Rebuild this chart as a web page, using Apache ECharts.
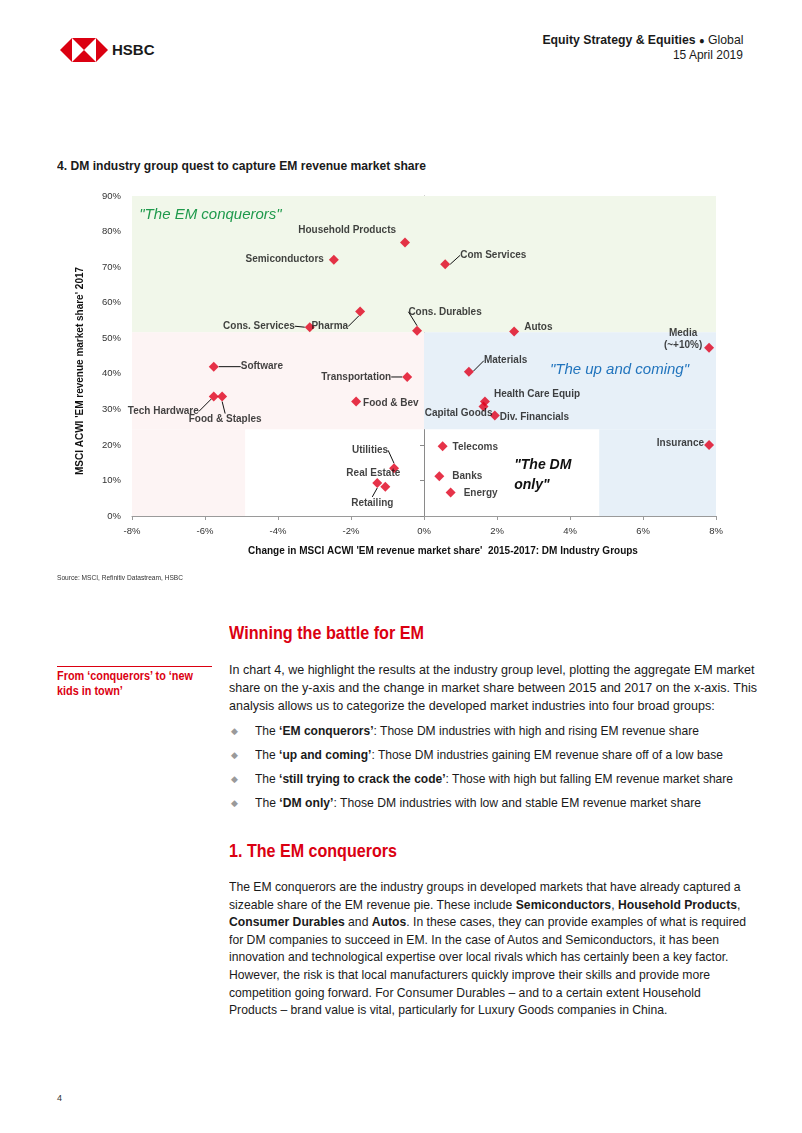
<!DOCTYPE html>
<html>
<head>
<meta charset="utf-8">
<script src="https://cdn.jsdelivr.net/npm/echarts@6/dist/echarts.min.js"></script>
<style>
  html, body { margin:0; padding:0; background:#fff; }
  body { width:802px; height:1133px; position:relative; overflow:hidden;
         font-family:"Liberation Sans",Arial,sans-serif; color:#1a1a1a; }
  .abs { position:absolute; white-space:nowrap; transform-origin:left top; }
  .red { color:#db0011; }
  #chart { position:absolute; left:0; top:180px; width:802px; height:400px; }
  .para { font-size:13.5px; line-height:18px; }
  .bul { font-size:13.5px; line-height:18px; }
  .dia { position:absolute; color:#9a9a9a; font-size:9px; line-height:18px; font-family:"DejaVu Sans",sans-serif; }
</style>
</head>
<body>
<!-- header -->
<svg class="abs" style="left:60px;top:38px" width="48" height="24" viewBox="0 0 100 50">
  <polygon points="0,25 25,0 25,50" fill="#db0011"/>
  <polygon points="100,25 75,0 75,50" fill="#db0011"/>
  <polygon points="25,0 75,0 50,25" fill="#db0011"/>
  <polygon points="25,50 75,50 50,25" fill="#db0011"/>
</svg>
<div class="abs" style="left:112px;top:41px;font-weight:bold;font-size:15px;line-height:18px;">HSBC</div>
<div class="abs" data-w="201" style="right:59px;top:32px;font-size:13px;line-height:15px;transform-origin:right top;"><b>Equity Strategy &amp; Equities</b> <span style="font-size:10px">●</span> Global</div>
<div class="abs" data-w="70" style="right:59px;top:47px;font-size:13px;line-height:15px;transform-origin:right top;">15 April 2019</div>

<!-- chart title -->
<div class="abs" data-w="369" style="left:57px;top:159px;font-weight:bold;font-size:12px;line-height:14px;">4. DM industry group quest to capture EM revenue market share</div>

<div id="chart"></div>

<div class="abs" data-w="126" style="left:57px;top:573px;font-size:8px;line-height:10px;color:#333;">Source: MSCI, Refinitiv Datastream, HSBC</div>

<!-- text -->
<div class="abs red" data-w="195" style="left:229px;top:622px;font-size:19px;font-weight:bold;line-height:22px;">Winning the battle for EM</div>
<div class="abs" style="left:57px;top:666px;width:155px;height:1px;background:#db0011;"></div>
<div class="abs red" data-w="136" style="left:57px;top:669px;font-size:12.5px;font-weight:bold;line-height:15px;">From ‘conquerors’ to ‘new<br>kids in town’</div>

<div class="abs para" data-w="528" style="left:229px;top:661px;">In chart 4, we highlight the results at the industry group level, plotting the aggregate EM market<br>share on the y-axis and the change in market share between 2015 and 2017 on the x-axis. This<br>analysis allows us to categorize the developed market industries into four broad groups:</div>

<div class="dia" style="left:231px;top:722px;">◆</div>
<div class="dia" style="left:231px;top:746px;">◆</div>
<div class="dia" style="left:231px;top:770px;">◆</div>
<div class="dia" style="left:231px;top:794px;">◆</div>
<div class="abs bul" data-w="444" style="left:255px;top:722px;">The <b>‘EM conquerors’</b>: Those DM industries with high and rising EM revenue share</div>
<div class="abs bul" data-w="468" style="left:255px;top:746px;">The <b>‘up and coming’</b>: Those DM industries gaining EM revenue share off of a low base</div>
<div class="abs bul" data-w="478" style="left:255px;top:770px;">The <b>‘still trying to crack the code’</b>: Those with high but falling EM revenue market share</div>
<div class="abs bul" data-w="446" style="left:255px;top:794px;">The <b>‘DM only’</b>: Those DM industries with low and stable EM revenue market share</div>

<div class="abs red" data-w="168" style="left:229px;top:840px;font-size:19px;font-weight:bold;line-height:22px;">1. The EM conquerors</div>
<div class="abs para" data-w="517" style="left:229px;top:878px;line-height:17.6px;">The EM conquerors are the industry groups in developed markets that have already captured a<br>sizeable share of the EM revenue pie. These include <b>Semiconductors</b>, <b>Household Products</b>,<br><b>Consumer Durables</b> and <b>Autos</b>. In these cases, they can provide examples of what is required<br>for DM companies to succeed in EM. In the case of Autos and Semiconductors, it has been<br>innovation and technological expertise over local rivals which has certainly been a key factor.<br>However, the risk is that local manufacturers quickly improve their skills and provide more<br>competition going forward. For Consumer Durables – and to a certain extent Household<br>Products – brand value is vital, particularly for Luxury Goods companies in China.</div>

<div class="abs" style="left:57px;top:1092px;font-size:9px;line-height:12px;color:#333;">4</div>

<script>
// ---- data ----
const industries = ['Household Products','Semiconductors','Com Services','Pharma','Cons. Services','Cons. Durables','Autos','Media\n(~+10%)','Software','Transportation','Tech Hardware','Food & Staples','Food & Bev','Utilities','Real Estate','Retailing','Materials','Health Care Equip','Capital Goods','Div. Financials','Telecoms','Banks','Energy','Insurance'];
// change in EM revenue market share 2015-2017 (%)
const shareChange = [-0.52,-2.47,0.58,-1.75,-3.13,-0.19,2.47,7.81,-5.76,-0.46,-5.76,-5.53,-1.86,-0.82,-1.06,-1.28,1.23,1.67,1.63,1.94,0.51,0.42,0.73,7.81];
// EM revenue market share 2017 (%)
const share2017 = [76.9,72.1,70.8,57.5,53.1,52.1,51.9,47.3,42.0,39.1,33.6,33.6,32.2,13.4,8.2,9.3,40.6,32.2,30.8,28.3,19.6,11.2,6.6,20.0];
const xAxisRange = [-8, 8, 2];
const yAxisRange = [0, 90, 10];
// quadrant boundaries (data units)
const shareSplit = 51.7;
const lowSplit = 24.4;
const leftLowEdge = -4.9;
const rightLowEdge = 4.8;
const quadrantNames = ['"The EM conquerors"', '"The still trying to crack\nthe code"', '"The up and coming"', '"The DM\nonly"'];
const quadrantAnchors = [[-7.8, 84.7], [-8.1, 45.6], [3.45, 41.2], [2.47, 11.5]];

// ---- label placement (styling) ----
const place = {
  'Household Products': {pos:'left', dx:1, dy:-12},
  'Semiconductors': {pos:'left', dx:0, dy:0},
  'Com Services': {pos:'right', dx:5, dy:-9, line:true},
  'Pharma': {pos:'left', dx:-2, dy:15, line:true},
  'Cons. Services': {pos:'left', dx:-5, dy:-1, line:true},
  'Cons. Durables': {pos:'top', dx:28, dy:-3, line:true},
  'Autos': {pos:'right', dx:0, dy:-4},
  'Media\n(~+10%)': {pos:'left', dx:-16, dy:-9, align:'center'},
  'Software': {pos:'right', dx:17, dy:0, line:true},
  'Transportation': {pos:'left', dx:-6, dy:0, line:true},
  'Tech Hardware': {pos:'left', dx:-5, dy:15, line:true},
  'Food & Staples': {pos:'bottom', dx:3, dy:7, line:true},
  'Food & Bev': {pos:'right', dx:-3, dy:2},
  'Utilities': {pos:'top', dx:-24, dy:-2, line:true},
  'Real Estate': {pos:'top', dx:-12, dy:2},
  'Retailing': {pos:'bottom', dx:-5, dy:4, line:true},
  'Materials': {pos:'right', dx:5, dy:-11, line:true},
  'Health Care Equip': {pos:'right', dx:-1, dy:-7},
  'Capital Goods': {pos:'left', dx:19, dy:7},
  'Div. Financials': {pos:'right', dx:-5, dy:2},
  'Telecoms': {pos:'right', dx:0, dy:1},
  'Banks': {pos:'right', dx:3, dy:0},
  'Energy': {pos:'right', dx:3, dy:1},
  'Insurance': {pos:'left', dx:5, dy:-2}
};

const FONT = '"Liberation Sans",Arial,sans-serif';
const chart = echarts.init(document.getElementById('chart'), null, {renderer:'canvas'});

const points = industries.map((n, i) => ({
  name: n,
  value: [shareChange[i], share2017[i]],
  label: Object.assign({position: place[n].pos}, place[n].align ? {align: place[n].align} : {}),
  labelLine: {show: !!place[n].line}
}));

const quadColors = ['#1f9a4c', '#e8101e', '#2174bd', '#111'];
const quadStyle = [
  {fontWeight:'normal', fontSize:15, lineHeight:18},
  {fontWeight:'bold', fontSize:14, lineHeight:18},
  {fontWeight:'normal', fontSize:15, lineHeight:18},
  {fontWeight:'bold', fontSize:14, lineHeight:20}
];

const option = {
  animation: false,
  grid: {left:132, right:86, top:16, bottom:64},
  xAxis: {
    type:'value', min:xAxisRange[0], max:xAxisRange[1], interval:xAxisRange[2],
    axisLine:{onZero:false, lineStyle:{color:'#9a9a9a'}},
    axisTick:{show:true, length:4, lineStyle:{color:'#9a9a9a'}},
    splitLine:{show:false},
    axisLabel:{formatter:'{value}%', color:'#333', fontSize:9.5, fontFamily:FONT, margin:10},
    name:"Change in MSCI ACWI 'EM revenue market share'  2015-2017: DM Industry Groups",
    nameLocation:'middle', nameGap:30,
    nameTextStyle:{fontWeight:'bold', fontSize:10, color:'#111', fontFamily:FONT, padding:[0,0,0,38]}
  },
  yAxis: [{
    type:'value', min:yAxisRange[0], max:yAxisRange[1], interval:yAxisRange[2], position:'left',
    axisLine:{show:false, onZero:false}, axisTick:{show:false}, splitLine:{show:false},
    axisLabel:{formatter:'{value}%', color:'#333', fontSize:9.5, fontFamily:FONT, margin:11},
    name:"MSCI ACWI 'EM revenue market share' 2017",
    nameLocation:'middle', nameGap:47,
    nameTextStyle:{fontWeight:'bold', fontSize:10, color:'#111', fontFamily:FONT, padding:[0,30,0,0]}
  }, {
    type:'value', min:yAxisRange[0], max:yAxisRange[1], interval:yAxisRange[2], position:'left',
    axisLine:{show:true, onZero:true, lineStyle:{color:'#8a8a8a'}},
    axisTick:{show:true, length:4, lineStyle:{color:'#8a8a8a'}},
    axisLabel:{show:false}, splitLine:{show:false}
  }],
  series: [{
    type:'scatter', data:[], z:1, silent:true,
    markArea: {
      silent:true,
      data: [
        [{coord:[xAxisRange[0], shareSplit], itemStyle:{color:'#f1f7ea'}}, {coord:[xAxisRange[1], yAxisRange[1]]}],
        [{coord:[xAxisRange[0], lowSplit], itemStyle:{color:'#fdf4f4'}}, {coord:[0, shareSplit]}],
        [{coord:[xAxisRange[0], 0], itemStyle:{color:'#fdf4f4'}}, {coord:[leftLowEdge, lowSplit]}],
        [{coord:[0, lowSplit], itemStyle:{color:'#e7f0f8'}}, {coord:[xAxisRange[1], shareSplit]}],
        [{coord:[rightLowEdge, 0], itemStyle:{color:'#e7f0f8'}}, {coord:[xAxisRange[1], lowSplit]}]
      ]
    },
    markPoint: {
      symbol:'rect', symbolSize:0, silent:true,
      label:{show:true, position:'right', distance:0, fontStyle:'italic', fontFamily:FONT},
      data: quadrantNames.map((t, i) => ({
        coord: quadrantAnchors[i],
        label: Object.assign({formatter: t, color: quadColors[i]}, quadStyle[i])
      }))
    }
  }, {
    type:'scatter', z:3,
    symbol:'diamond', symbolSize:10,
    itemStyle:{color:'#e0001b'},
    data: points,
    label:{show:true, formatter:'{b}', color:'#111', fontWeight:'bold', fontSize:10, lineHeight:12, fontFamily:FONT, distance:5},
    labelLine:{show:false, lineStyle:{color:'#111', width:1}},
    labelLayout: function (p) {
      const pl = place[industries[p.dataIndex]];
      if (!pl) return {};
      return {dx: pl.dx, dy: pl.dy};
    }
  }]
};
chart.setOption(option);

// fit HTML text to the narrow widths of the original typeface
function fitText() {
  document.querySelectorAll('[data-w]').forEach(el => {
    el.style.transform = 'none';
    const w = el.getBoundingClientRect().width;
    if (w > 0) el.style.transform = 'scaleX(' + (parseFloat(el.dataset.w) / w) + ')';
  });
}
fitText();
if (document.fonts && document.fonts.ready) document.fonts.ready.then(fitText);
</script>
</body>
</html>
